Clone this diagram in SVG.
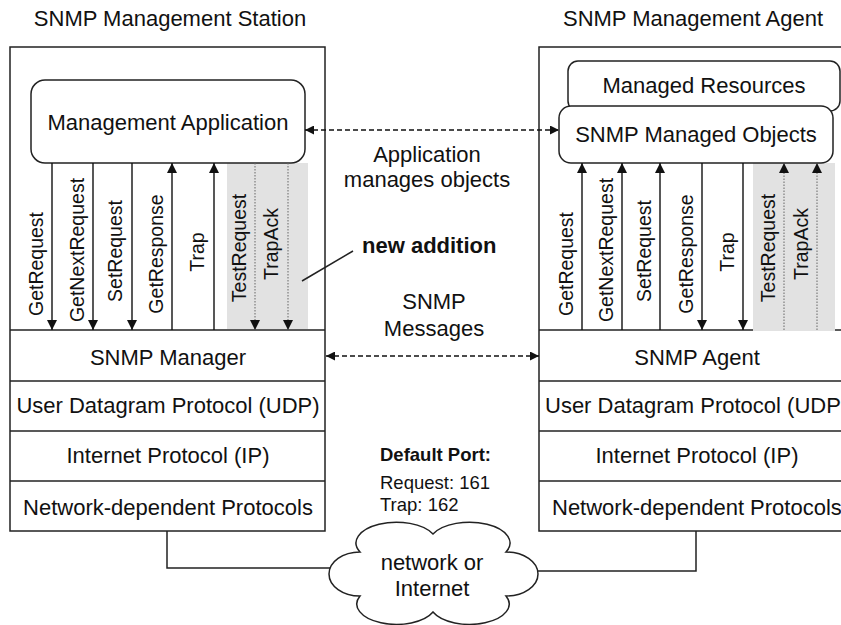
<svg xmlns="http://www.w3.org/2000/svg" width="841" height="625" viewBox="0 0 841 625">
  <style>
    .box { fill: #ffffff; stroke: #222222; stroke-width: 1.5; }
    .rule { stroke: #222222; stroke-width: 1.5; fill: none; }
    .band { fill: #e2e2e2; stroke: none; }
    .t { font-family: "Liberation Sans", Arial, sans-serif; fill: #111111; }
    .big { font-size: 22px; }
    .mid { font-size: 19.5px; }
    .small { font-size: 18.5px; }
    .c { text-anchor: middle; }
    .b { font-weight: bold; }
    .msg { stroke: #111111; stroke-width: 1.4; fill: none; }
    .dot { stroke: #666666; stroke-width: 1; stroke-dasharray: 1.5 1.5; fill: none; }
    .dash { stroke: #111111; stroke-width: 1.3; stroke-dasharray: 5 3; fill: none; }
    .wire { stroke: #222222; stroke-width: 1.5; fill: none; }
  </style>
  <defs>
    <marker id="tri" viewBox="0 0 10 10" refX="10" refY="5" markerWidth="10" markerHeight="10" markerUnits="userSpaceOnUse" orient="auto">
      <path d="M0,0 L10,5 L0,10 Z" fill="#111111"/>
    </marker>
    <marker id="tri-s" viewBox="0 0 10 10" refX="10" refY="5" markerWidth="9" markerHeight="9" markerUnits="userSpaceOnUse" orient="auto-start-reverse">
      <path d="M0,0 L10,5 L0,10 Z" fill="#111111"/>
    </marker>
  </defs>

  <!-- column titles -->
  <text class="t big c" x="170" y="26">SNMP Management Station</text>
  <text class="t big c" x="693" y="26">SNMP Management Agent</text>

  <!-- manager side protocol stack -->
  <g id="station">
    <rect class="box" x="10" y="47" width="315" height="484"/>
    <rect class="band" x="227" y="163" width="81" height="166"/>
    <line class="rule" x1="10" y1="330" x2="325" y2="330"/>
    <line class="rule" x1="10" y1="381" x2="325" y2="381"/>
    <line class="rule" x1="10" y1="431" x2="325" y2="431"/>
    <line class="rule" x1="10" y1="481" x2="325" y2="481"/>
  </g>
  <g id="snmp-manager"><text class="t big c" x="168" y="365">SNMP Manager</text></g>
  <g id="udp-left"><text class="t big c" x="168" y="413">User Datagram Protocol (UDP)</text></g>
  <g id="ip-left"><text class="t big c" x="168" y="463">Internet Protocol (IP)</text></g>
  <g id="net-left"><text class="t big c" x="168" y="515">Network-dependent Protocols</text></g>

  <g id="management-application">
    <rect class="box" x="31" y="80" width="274" height="83" rx="14"/>
    <text class="t big c" x="168" y="130">Management Application</text>
  </g>

  <!-- agent side protocol stack, running past the right edge -->
  <g id="agent">
    <rect class="box" x="539" y="47" width="320" height="484"/>
    <line class="rule" x1="539" y1="330" x2="859" y2="330"/>
    <rect class="band" x="753" y="163" width="82" height="168"/>
    <line class="rule" x1="539" y1="381" x2="859" y2="381"/>
    <line class="rule" x1="539" y1="431" x2="859" y2="431"/>
    <line class="rule" x1="539" y1="481" x2="859" y2="481"/>
  </g>
  <g id="snmp-agent"><text class="t big c" x="697" y="365">SNMP Agent</text></g>
  <g id="udp-right"><text class="t big" x="545" y="413">User Datagram Protocol (UDP</text></g>
  <g id="ip-right"><text class="t big c" x="697" y="463">Internet Protocol (IP)</text></g>
  <g id="net-right"><text class="t big" x="552" y="515">Network-dependent Protocols</text></g>

  <g id="managed-resources">
    <rect class="box" x="568" y="61" width="272" height="50" rx="10"/>
    <text class="t big c" x="704" y="93">Managed Resources</text>
  </g>
  <g id="managed-objects">
    <rect class="box" x="559" y="106" width="274" height="57" rx="12"/>
    <text class="t big c" x="696" y="142">SNMP Managed Objects</text>
  </g>

  <!-- network cloud -->
  <g id="cloud">
    <path class="box" d="M360,552 A37,19 0 0 1 433,534 A37,19 0 0 1 506,552 A32,22 0 0 1 506,596 A37,19 0 0 1 433,612 A37,19 0 0 1 360,596 A31,22 0 0 1 360,552 Z"/>
    <text class="t big c" x="432" y="570">network or</text>
    <text class="t big c" x="432" y="596">Internet</text>
  </g>

  <!-- free-standing notes -->
  <g id="notes">
    <text class="t big c" x="427" y="162">Application</text>
    <text class="t big c" x="427" y="187">manages objects</text>
    <text class="t big b" x="362" y="253">new addition</text>
    <text class="t big c" x="434" y="309">SNMP</text>
    <text class="t big c" x="434" y="336">Messages</text>
    <text class="t small b" x="380" y="461">Default Port:</text>
    <text class="t small" x="380" y="489">Request: 161</text>
    <text class="t small" x="380" y="511">Trap: 162</text>
  </g>

  <!-- message labels, manager side -->
  <g id="labels-left" class="t mid c">
    <text transform="translate(43,264) rotate(-90)">GetRequest</text>
    <text transform="translate(84,250) rotate(-90)">GetNextRequest</text>
    <text transform="translate(122,251) rotate(-90)">SetRequest</text>
    <text transform="translate(163,254) rotate(-90)">GetResponse</text>
    <text transform="translate(204,252) rotate(-90)">Trap</text>
    <text transform="translate(246,248) rotate(-90)">TestRequest</text>
    <text transform="translate(278,244) rotate(-90)">TrapAck</text>
  </g>
  <!-- message labels, agent side -->
  <g id="labels-right" class="t mid c">
    <text transform="translate(573,264) rotate(-90)">GetRequest</text>
    <text transform="translate(613,250) rotate(-90)">GetNextRequest</text>
    <text transform="translate(651,251) rotate(-90)">SetRequest</text>
    <text transform="translate(693,254) rotate(-90)">GetResponse</text>
    <text transform="translate(734,252) rotate(-90)">Trap</text>
    <text transform="translate(775,248) rotate(-90)">TestRequest</text>
    <text transform="translate(808,244) rotate(-90)">TrapAck</text>
  </g>

  <g id="connectors">
    <!-- manager side messages -->
    <line class="msg" x1="52" y1="163" x2="52" y2="330" marker-end="url(#tri)"/>
    <line class="msg" x1="93" y1="163" x2="93" y2="330" marker-end="url(#tri)"/>
    <line class="msg" x1="132" y1="163" x2="132" y2="330" marker-end="url(#tri)"/>
    <line class="msg" x1="172" y1="330" x2="172" y2="163" marker-end="url(#tri)"/>
    <line class="msg" x1="214" y1="330" x2="214" y2="163" marker-end="url(#tri)"/>
    <line class="dot" x1="255" y1="163" x2="255" y2="330" marker-end="url(#tri)"/>
    <line class="dot" x1="288" y1="163" x2="288" y2="330" marker-end="url(#tri)"/>
    <!-- agent side messages -->
    <line class="msg" x1="582" y1="330" x2="582" y2="163" marker-end="url(#tri)"/>
    <line class="msg" x1="622" y1="330" x2="622" y2="163" marker-end="url(#tri)"/>
    <line class="msg" x1="660" y1="330" x2="660" y2="163" marker-end="url(#tri)"/>
    <line class="msg" x1="702" y1="163" x2="702" y2="330" marker-end="url(#tri)"/>
    <line class="msg" x1="743" y1="163" x2="743" y2="330" marker-end="url(#tri)"/>
    <line class="dot" x1="784" y1="330" x2="784" y2="163" marker-end="url(#tri)"/>
    <line class="dot" x1="817" y1="330" x2="817" y2="163" marker-end="url(#tri)"/>
    <!-- peer relations -->
    <line class="dash" x1="305" y1="130" x2="559" y2="130" marker-start="url(#tri-s)" marker-end="url(#tri-s)"/>
    <line class="dash" x1="326" y1="356" x2="539" y2="356" marker-start="url(#tri-s)" marker-end="url(#tri-s)"/>
    <!-- note pointer -->
    <line class="wire" x1="302" y1="281" x2="353" y2="251" stroke-width="1.2"/>
    <!-- links to the network -->
    <path class="wire" d="M167,531 V568 H330"/>
    <path class="wire" d="M696,531 V571 H538"/>
  </g>
</svg>
